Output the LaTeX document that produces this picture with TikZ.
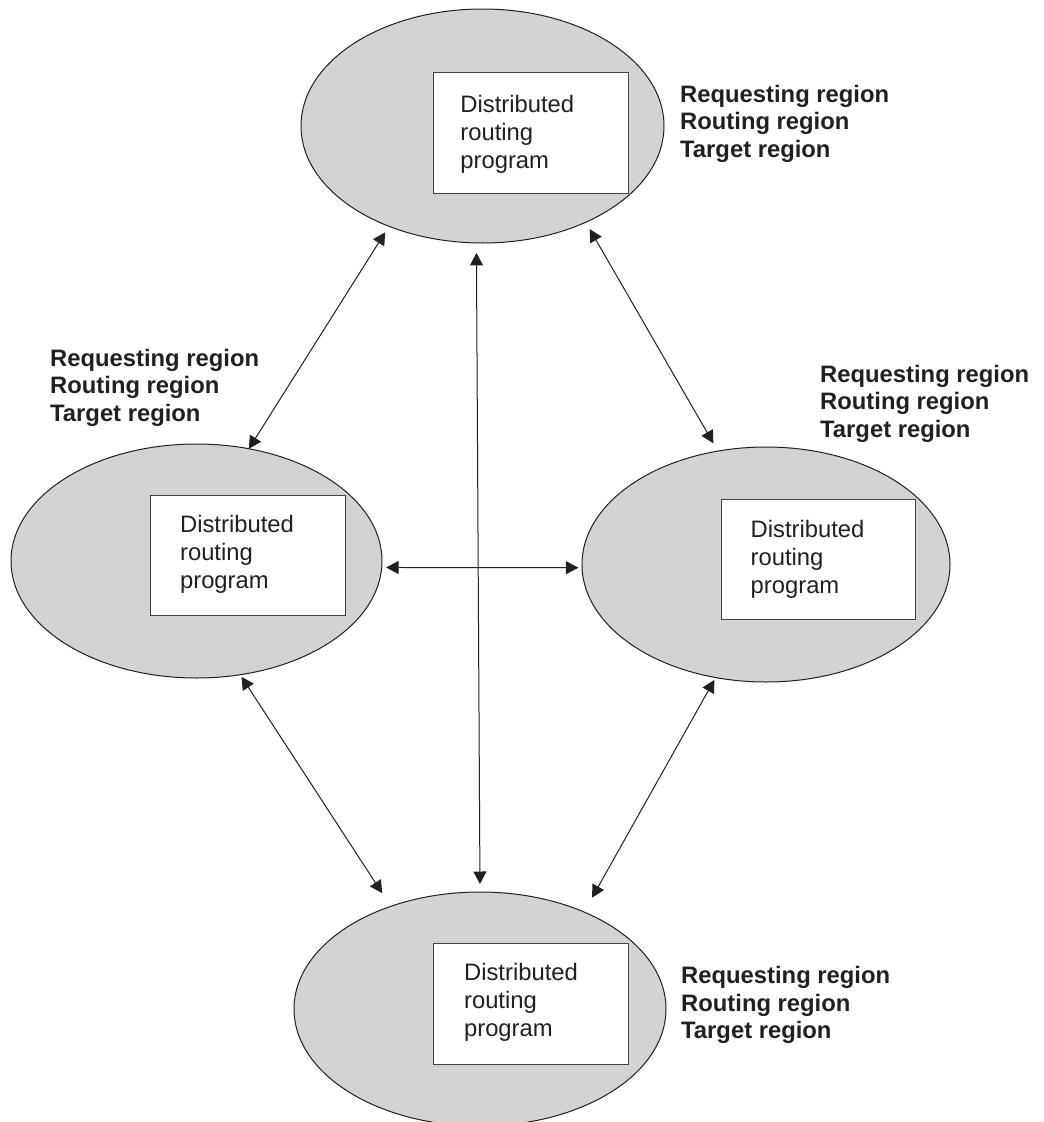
\documentclass[tikz,border=0pt]{standalone}
\usepackage{fontspec}
\setmainfont{Liberation Sans}
\usetikzlibrary{shapes.geometric,arrows.meta}
\definecolor{ink}{HTML}{231F20}
\definecolor{regfill}{HTML}{D1D3D4}
\begin{document}
\begin{tikzpicture}[x=1pt,y=-1pt,
  region/.style={ellipse, draw=ink, line width=1pt, fill=regfill, inner sep=0pt, outer sep=0pt},
  progbox/.style={rectangle, draw=ink!85, line width=1pt, fill=white, inner sep=0pt},
  progtxt/.style={anchor=north west, inner sep=0pt, align=left, text=ink, font=\fontsize{23.8}{28}\selectfont},
  roletxt/.style={anchor=north west, inner sep=0pt, align=left, text=ink, font=\fontsize{23.8}{27.5}\selectfont\bfseries},
  link/.style={draw=ink, line width=1pt, {Triangle[length=12.5pt,width=13pt]}-{Triangle[length=12.5pt,width=13pt]}}
]
\clip (0,0) rectangle (1044,1122);
\fill[white] (0,0) rectangle (1044,1122);

% regions
\node[region, minimum width=363pt, minimum height=234pt] (T) at (482.5,126) {};
\node[region, minimum width=371pt, minimum height=234pt] (L) at (196.5,561) {};
\node[region, minimum width=368pt, minimum height=235pt] (R) at (766,564.5) {};
\node[region, minimum width=372pt, minimum height=234pt] (B) at (480,1009) {};

% program boxes
\node[progbox, minimum width=195pt, minimum height=121pt] (Tbox) at (530.5,132.5) {};
\node[progbox, minimum width=195pt, minimum height=120pt] (Lbox) at (247.5,555) {};
\node[progbox, minimum width=194pt, minimum height=120pt] (Rbox) at (818,559) {};
\node[progbox, minimum width=195pt, minimum height=121pt] (Bbox) at (530.5,1003.5) {};

\node[progtxt] (Ttxt) at (460.2,94.7) {Distributed\\routing\\program};
\node[progtxt] (Ltxt) at (179.9,514.7) {Distributed\\routing\\program};
\node[progtxt] (Rtxt) at (750.5,519.7) {Distributed\\routing\\program};
\node[progtxt] (Btxt) at (463.9,963) {Distributed\\routing\\program};

% role labels
\node[roletxt] (Trole) at (680,84.7) {Requesting region\\Routing region\\Target region};
\node[roletxt] (Lrole) at (50,349) {Requesting region\\Routing region\\Target region};
\node[roletxt] (Rrole) at (820,364.7) {Requesting region\\Routing region\\Target region};
\node[roletxt] (Brole) at (681,966.3) {Requesting region\\Routing region\\Target region};

% links
\draw[link, shorten <=7pt] (T.227.4) -- (L.65.7);
\draw[link, shorten <=8pt, shorten >=9pt] (T.317.6) -- (R.113.4);
\draw[link, shorten <=10pt, shorten >=8pt] (T.267.1) -- (B.90.8);
\draw[link, shorten <=4.4pt, shorten >=3.7pt] (L.-2.5) -- (R.181.5);
\draw[link, shorten <=2.5pt, shorten >=15.7pt] (L.291.9) -- (B.131.3);
\draw[link, shorten <=2.7pt, shorten >=16.5pt] (R.246.2) -- (B.43);
\end{tikzpicture}
\end{document}
